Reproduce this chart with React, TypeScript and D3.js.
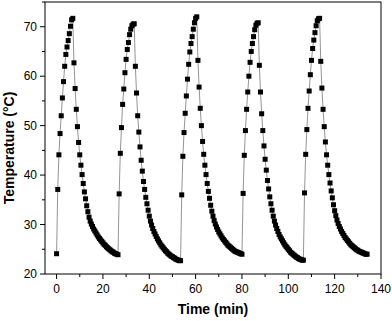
import React, { useEffect, useRef } from "react";
import * as d3 from "d3";

// readings every half minute, five heating / cooling runs
const step = 0.5;

const cycle1 = [
  24.1, 37.1, 44.1, 48.4, 52.0, 55.6, 58.9, 62.0, 64.4, 65.9, 67.2, 68.6, 70.1, 71.4, 71.7,
  62.7, 57.5, 53.3, 49.8, 46.6, 44.1, 42.0, 40.1, 38.3, 36.6, 35.2, 33.8, 32.6, 31.5, 30.7,
  30.1, 29.6, 29.1, 28.7, 28.3, 27.9, 27.5, 27.2, 26.9, 26.6, 26.3, 26.0, 25.8, 25.5, 25.3,
  25.1, 24.9, 24.7, 24.5, 24.4, 24.2, 24.1, 24.0, 23.9,
];
const cycle2 = [
  36.2, 44.4, 49.6, 54.3, 57.4, 60.7, 63.4, 65.4, 66.8, 68.4, 69.5, 70.2, 70.5, 70.6,
  62.0, 56.6, 52.0, 48.7, 45.7, 43.0, 40.8, 38.7, 37.1, 35.5, 34.2, 32.9, 31.7, 30.7, 29.9,
  29.2, 28.6, 28.1, 27.6, 27.1, 26.7, 26.3, 25.9, 25.6, 25.3, 25.0, 24.7, 24.5, 24.2, 24.0,
  23.8, 23.6, 23.5, 23.3, 23.2, 23.0, 22.9, 22.8, 22.7, 22.7,
];
const cycle3 = [
  36.0, 43.8, 48.6, 52.5, 56.0, 59.4, 62.4, 64.9, 66.6, 68.0, 69.5, 70.8, 71.7, 72.0,
  63.2, 57.8, 53.5, 50.0, 46.8, 44.2, 42.0, 40.1, 38.3, 36.7, 35.3, 33.9, 32.7, 31.7, 30.8,
  30.1, 29.5, 29.0, 28.5, 28.1, 27.7, 27.3, 27.0, 26.7, 26.4, 26.1, 25.8, 25.6, 25.4, 25.2,
  25.0, 24.8, 24.6, 24.5, 24.4, 24.3, 24.2, 24.1, 24.0,
];
const cycle4 = [
  36.3, 44.0, 49.0, 53.3, 56.8, 60.0, 62.8, 65.0, 66.6, 68.0, 69.4, 70.3, 70.7, 70.8,
  62.2, 56.8, 52.4, 49.0, 45.9, 43.2, 41.0, 38.9, 37.2, 35.6, 34.2, 32.9, 31.7, 30.7, 29.9,
  29.2, 28.6, 28.0, 27.5, 27.1, 26.7, 26.3, 25.9, 25.6, 25.3, 25.0, 24.7, 24.4, 24.2, 24.0,
  23.8, 23.6, 23.4, 23.3, 23.1, 23.0, 22.9, 22.8, 22.8,
];
const cycle5 = [
  36.4, 44.2, 49.2, 53.5, 57.0, 60.3, 63.2, 65.6, 67.3, 68.8, 70.2, 71.2, 71.6, 71.7,
  63.0, 57.6, 53.3, 49.8, 46.7, 44.1, 42.0, 40.1, 38.4, 36.8, 35.4, 34.0, 32.8, 31.8, 30.9,
  30.2, 29.6, 29.1, 28.6, 28.2, 27.8, 27.4, 27.1, 26.8, 26.5, 26.2, 25.9, 25.7, 25.5, 25.3,
  25.1, 24.9, 24.8, 24.6, 24.5, 24.4, 24.3, 24.2, 24.1, 24.0, 24.0,
];

const xTicks = [0, 20, 40, 60, 80, 100, 120, 140];
const xMinor = [10, 30, 50, 70, 90, 110, 130];
const yTicks = [20, 30, 40, 50, 60, 70];
const yMinor = [25, 35, 45, 55, 65, 75];

export default function App() {
  const ref = useRef<SVGSVGElement>(null);

  useEffect(() => {
    const svg = d3.select(ref.current);
    svg.selectAll("*").remove();

    const width = 392;
    const height = 321;
    const m = { left: 45, right: 381, top: 2, bottom: 274 };

    const temps = [...cycle1, ...cycle2, ...cycle3, ...cycle4, ...cycle5];
    const pts = temps.map((v, i) => ({ t: i * step, v }));

    const x = d3.scaleLinear().domain([-5, 140]).range([m.left, m.right]);
    const y = d3.scaleLinear().domain([20, 75]).range([m.bottom, m.top]);

    svg.attr("width", width).attr("height", height);
    const font = "Liberation Sans, Arial, sans-serif";

    // ticks, outward on left and bottom
    const ax = svg.append("g").attr("stroke", "#000").attr("stroke-width", 1);
    xTicks.forEach((d) => {
      ax.append("line").attr("x1", x(d)).attr("x2", x(d)).attr("y1", m.bottom).attr("y2", m.bottom + 5);
    });
    xMinor.forEach((d) => {
      ax.append("line").attr("x1", x(d)).attr("x2", x(d)).attr("y1", m.bottom).attr("y2", m.bottom + 3);
    });
    yTicks.forEach((d) => {
      ax.append("line").attr("x1", m.left - 5).attr("x2", m.left).attr("y1", y(d)).attr("y2", y(d));
    });
    yMinor.forEach((d) => {
      ax.append("line").attr("x1", m.left - 3).attr("x2", m.left).attr("y1", y(d)).attr("y2", y(d));
    });

    svg.append("g").selectAll("text").data(xTicks).enter().append("text")
      .attr("x", (d) => x(d)).attr("y", m.bottom + 19)
      .attr("text-anchor", "middle").attr("font-family", font).attr("font-size", 12)
      .text((d) => d);
    svg.append("g").selectAll("text").data(yTicks).enter().append("text")
      .attr("x", m.left - 8).attr("y", (d) => y(d) + 4.3)
      .attr("text-anchor", "end").attr("font-family", font).attr("font-size", 12)
      .text((d) => d);

    // connecting line and square markers
    const line = d3.line<{ t: number; v: number }>().x((d) => x(d.t)).y((d) => y(d.v));
    svg.append("path").datum(pts).attr("d", line)
      .attr("fill", "none").attr("stroke", "#666").attr("stroke-width", 0.7);

    const s = 5;
    svg.append("g").selectAll("rect").data(pts).enter().append("rect")
      .attr("x", (d) => x(d.t) - s / 2).attr("y", (d) => y(d.v) - s / 2)
      .attr("width", s).attr("height", s).attr("fill", "#000");

    // frame
    svg.append("rect")
      .attr("x", m.left).attr("y", m.top)
      .attr("width", m.right - m.left).attr("height", m.bottom - m.top)
      .attr("fill", "none").attr("stroke", "#000").attr("stroke-width", 1);

    svg.append("text")
      .attr("x", (m.left + m.right) / 2).attr("y", 314)
      .attr("text-anchor", "middle").attr("font-family", font)
      .attr("font-size", 14).attr("font-weight", "bold")
      .text("Time (min)");
    svg.append("text")
      .attr("transform", "translate(14,148) rotate(-90)")
      .attr("text-anchor", "middle").attr("font-family", font)
      .attr("font-size", 14).attr("font-weight", "bold")
      .text("Temperature (°C)");
  }, []);

  return (
    <svg ref={ref} style={{ position: "absolute", left: 0, top: 0, display: "block" }} />
  );
}
